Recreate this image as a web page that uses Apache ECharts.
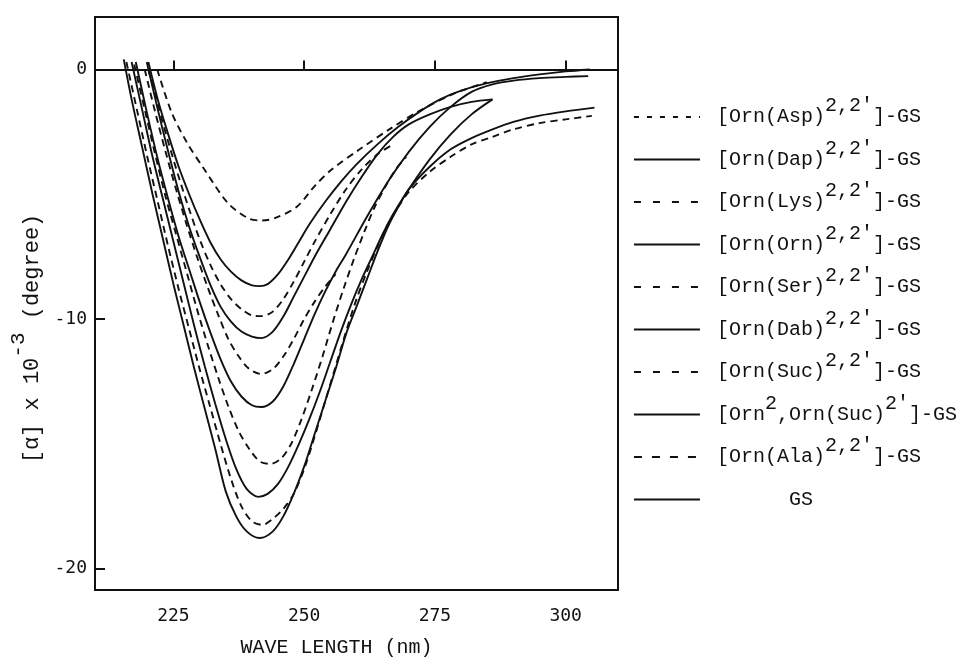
<!DOCTYPE html>
<html>
<head>
<meta charset="utf-8">
<script src="https://cdn.jsdelivr.net/npm/echarts@6/dist/echarts.min.js"></script>
<style>
html,body{margin:0;padding:0;background:#fff;}
#c{width:975px;height:657px;}
</style>
</head>
<body>
<div id="c"></div>
<script>
// ---- data (wavelength nm, [alpha] x 10^-3 degree) ----
const xTicks = [225, 250, 275, 300];
const yTicks = [0, -10, -20];
const seriesNames = ['Asp','Dap','Lys','Orn','Ser','Dab','Suc','Orn2','Ala','GS'];
const legendLabels = [
  ' {m|[Orn(Asp)}{s|2,2′}{m|]-GS}',
  ' {m|[Orn(Dap)}{s|2,2′}{m|]-GS}',
  ' {m|[Orn(Lys)}{s|2,2′}{m|]-GS}',
  ' {m|[Orn(Orn)}{s|2,2′}{m|]-GS}',
  ' {m|[Orn(Ser)}{s|2,2′}{m|]-GS}',
  ' {m|[Orn(Dab)}{s|2,2′}{m|]-GS}',
  ' {m|[Orn(Suc)}{s|2,2′}{m|]-GS}',
  ' {m|[Orn}{s|2}{m|,Orn(Suc)}{s|2′}{m|]-GS}',
  ' {m|[Orn(Ala)}{s|2,2′}{m|]-GS}',
  ' {m|      GS}{s| }'
];
const dashed = [true,false,true,false,true,false,true,false,true,false];

const asp = [[221.9,0.0],[224.6,-1.7],[227.5,-2.9],[230.9,-4.0],[235.4,-5.35],[239.4,-5.97],[242,-6.05],[244.5,-5.95],[248.6,-5.5],[252,-4.67],[255.3,-4.0],[260.6,-3.2],[266.5,-2.37],[271.7,-1.7],[278.3,-1.0],[284.9,-0.51]];
const dap = [[220.2,0.3],[222,-1.2],[224,-2.6],[226,-3.9],[228,-5.0],[230,-6.0],[232,-6.9],[234,-7.6],[236,-8.1],[238,-8.45],[240,-8.65],[241.5,-8.68],[243,-8.6],[245,-8.2],[247,-7.6],[249,-6.9],[251,-6.2],[254,-5.3],[257,-4.5],[260,-3.8],[264,-3.0],[268,-2.3],[272,-1.7],[276,-1.2],[280,-0.85],[285,-0.55],[290,-0.35],[295,-0.2],[300,-0.08],[304.6,0.0]];
const lys = [[220.2,0.0],[222,-1.4],[224,-2.9],[226,-4.3],[228,-5.6],[230,-6.8],[232,-7.8],[234,-8.6],[236,-9.2],[238,-9.6],[240,-9.85],[242,-9.88],[244,-9.7],[246,-9.2],[248,-8.5],[250,-7.7],[252,-6.9],[255,-5.8],[258,-4.8],[261,-4.0],[264,-3.4],[267,-3.0]];
const orn = [[219.9,0.3],[222,-1.6],[224,-3.3],[226,-4.9],[228,-6.3],[230,-7.5],[232,-8.6],[234,-9.5],[236,-10.1],[238,-10.5],[240,-10.7],[241.8,-10.76],[244,-10.5],[246,-9.9],[248,-9.1],[250,-8.3],[252,-7.5],[255,-6.4],[258,-5.3],[261,-4.3],[264,-3.4],[267,-2.7],[270,-2.2],[274,-1.8],[278,-1.5],[282,-1.3],[286,-1.2]];
const ser = [[219.5,0.0],[221.5,-1.7],[223.5,-3.3],[225.5,-4.8],[227.5,-6.2],[229.5,-7.5],[231.5,-8.7],[233.5,-9.8],[235.5,-10.8],[237.5,-11.5],[239.5,-12.0],[241.8,-12.2],[244,-12.0],[246,-11.5],[248,-10.8],[250,-10.0],[252,-9.3],[254,-8.7],[256,-8.2]];
const dab = [[217.8,0.3],[220,-1.8],[222,-3.6],[224,-5.2],[226,-6.7],[228,-8.0],[230,-9.3],[232,-10.5],[234,-11.6],[236,-12.5],[238,-13.1],[240,-13.45],[241.8,-13.52],[244,-13.3],[246,-12.7],[248,-11.8],[250,-10.8],[252,-9.8],[254,-8.9],[256,-8.1],[258,-7.4],[262,-5.9],[266,-4.5],[270,-3.3],[274,-2.3],[278,-1.5],[282,-0.9],[286,-0.6],[290,-0.45],[295,-0.35],[300,-0.3],[304.3,-0.27]];
const suc = [[217.5,0.2],[219.5,-1.6],[221.5,-3.4],[223.5,-5.1],[225.5,-6.6],[227.5,-8.1],[229.5,-9.6],[231.5,-11.0],[233.5,-12.3],[235.5,-13.5],[237.5,-14.5],[239.5,-15.2],[241.5,-15.7],[243.5,-15.8],[245.5,-15.6],[247.5,-15.0],[249.5,-14.0],[251.5,-12.8],[253.5,-11.5],[255.5,-10.1],[257.5,-8.8],[259.5,-7.6],[261.5,-6.5],[263.5,-5.5],[265.5,-4.7],[267.5,-4.0],[269.5,-3.5]];
const orn2 = [[217,0.3],[219,-1.6],[221,-3.5],[223,-5.2],[225,-6.9],[227,-8.6],[229,-10.3],[231,-11.9],[233,-13.4],[235,-14.8],[237,-16.0],[239,-16.8],[241.2,-17.12],[243,-17.0],[245,-16.6],[247,-15.9],[249,-15.0],[251,-14.0],[253,-12.9],[255,-11.7],[257,-10.5],[259,-9.4],[261,-8.4],[263,-7.5],[265,-6.6],[267,-5.8],[270,-4.8],[274,-3.6],[278,-2.6],[282,-1.8],[286,-1.2]];
const ala = [[216,0.3],[218,-1.6],[220,-3.5],[222,-5.3],[224,-7.1],[226,-8.8],[228,-10.4],[230,-12.0],[232,-13.5],[234,-15.0],[236,-16.4],[238,-17.5],[240,-18.1],[242,-18.24],[244,-18.0],[246,-17.6],[248,-17.0],[250,-16.0],[252,-14.7],[254,-13.3],[256,-11.9],[258,-10.5],[260,-9.2],[262,-8.1],[264,-7.1],[266,-6.2],[268,-5.5],[270,-4.9],[274,-4.1],[278,-3.5],[282,-3.0],[286,-2.7],[290,-2.4],[295,-2.15],[300,-2.0],[305,-1.86]];
const gs = [[215.5,0.4],[217,-1.2],[219,-3.1],[221,-5.0],[223,-6.8],[225,-8.6],[227,-10.3],[229,-12.0],[231,-13.6],[233,-15.2],[235,-16.9],[237,-17.9],[239,-18.5],[241.5,-18.77],[244,-18.5],[246,-17.9],[248,-17.0],[250,-15.9],[252,-14.6],[254,-13.3],[256,-12.0],[258,-10.6],[260,-9.5],[262,-8.4],[264,-7.3],[266,-6.3],[268,-5.5],[270,-4.8],[274,-3.9],[278,-3.2],[282,-2.75],[286,-2.4],[290,-2.1],[295,-1.85],[300,-1.68],[305.5,-1.53]];
const curves = [asp,dap,lys,orn,ser,dab,suc,orn2,ala,gs];
const legendDash = [[5,8],'solid',[7,12],'solid',[7,12],'solid',[7,12],'solid',[8,10],'solid'];

const INK = '#111';
const MONO = '"Liberation Mono", "DejaVu Sans Mono", monospace';
const TICKFONT = '"DejaVu Sans Mono", monospace';

const series = curves.map((d, i) => ({
  name: seriesNames[i],
  type: 'line',
  data: d,
  symbol: 'none',
  showSymbol: false,
  smooth: 0.3,
  silent: true,
  lineStyle: { color: INK, width: 1.9, type: dashed[i] ? [7, 5] : 'solid' },
  itemStyle: { color: INK },
  markLine: i === 0 ? {
    silent: true, symbol: 'none', label: { show: false },
    lineStyle: { color: INK, width: 2, type: 'solid' },
    data: [{ yAxis: 0 }]
  } : undefined
}));

const chart = echarts.init(document.getElementById('c'), null, { renderer: 'canvas' });
chart.setOption({
  animation: false,
  backgroundColor: '#fff',
  grid: { left: 95, top: 17, width: 523, height: 573, containLabel: false, outerBoundsMode: 'none',
          show: true, borderColor: INK, borderWidth: 2, backgroundColor: 'transparent' },
  xAxis: {
    type: 'value', min: 210, max: 310,
    axisLine: { show: false },
    splitLine: { show: false },
    axisTick: { show: true, inside: true, length: 9, customValues: xTicks, lineStyle: { color: INK, width: 2 } },
    axisLabel: { customValues: xTicks, margin: 17, color: INK, fontSize: 18, fontFamily: TICKFONT },
    name: 'WAVE LENGTH (nm)', nameLocation: 'middle', nameGap: 48, nameMoveOverlap: false,
    nameTextStyle: { color: INK, fontSize: 20, fontFamily: MONO, padding: [0, 40, 0, 0] }
  },
  yAxis: {
    type: 'value', min: -20.85, max: 2.1,
    axisLine: { show: false },
    splitLine: { show: false },
    axisTick: { show: true, inside: true, length: 10, customValues: yTicks, lineStyle: { color: INK, width: 2 } },
    axisLabel: { customValues: yTicks, margin: 8, color: INK, fontSize: 18, fontFamily: TICKFONT },
    name: '{m|[α] x 10}{s|-3}{m| (degree)}', nameLocation: 'middle', nameGap: 39, nameRotate: 90, nameMoveOverlap: false,
    nameTextStyle: {
      color: INK, fontFamily: MONO, fontSize: 22, padding: [0, 70, 0, 0],
      rich: {
        m: { fontFamily: MONO, fontSize: 22, color: INK, lineHeight: 48, verticalAlign: 'middle' },
        s: { fontFamily: MONO, fontSize: 21, color: INK, lineHeight: 22, verticalAlign: 'top' }
      }
    }
  },
  legend: {
    orient: 'vertical', left: 628, top: 91, padding: 5, itemWidth: 66, itemHeight: 14, itemGap: 11.5,
    data: seriesNames.map((n, i) => ({ name: n, lineStyle: { color: INK, width: 1.9, type: legendDash[i] }, itemStyle: { color: INK, opacity: 0 } })),
    formatter: function (name) { return legendLabels[seriesNames.indexOf(name)]; },
    selectedMode: false,
    textStyle: {
      color: INK, fontFamily: MONO, fontSize: 20,
      rich: {
        m: { fontFamily: MONO, fontSize: 20, color: INK, lineHeight: 42, verticalAlign: 'middle' },
        s: { fontFamily: MONO, fontSize: 20, color: INK, lineHeight: 22, verticalAlign: 'top' }
      }
    }
  },
  series: series
});
</script>
</body>
</html>
